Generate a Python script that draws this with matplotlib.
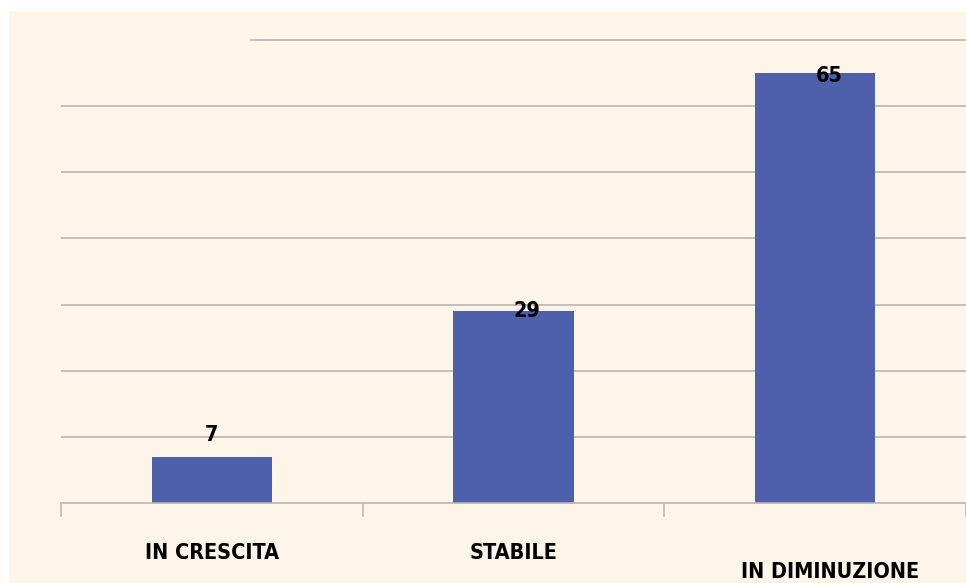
import matplotlib
matplotlib.use("Agg")
import matplotlib.pyplot as plt
from matplotlib.patches import Rectangle

categories = ["IN CRESCITA", "STABILE", "IN DIMINUZIONE"]
values = [7, 29, 65]
value_labels = ["7", "29", "65"]

W, H = 966, 583
fig = plt.figure(figsize=(W / 100, H / 100), dpi=100)
fig.patch.set_facecolor("white")
cream = "#FEF5E9"
fig.add_artist(Rectangle((9 / W, 0), 1 - 9 / W, 1 - 11 / H, transform=fig.transFigure,
                         facecolor=cream, edgecolor="none", zorder=0))

ax = fig.add_axes([61 / W, (H - 503) / H, 1 - 61 / W, (503 - 40) / H])
ax.set_facecolor("none")
ax.set_xlim(0, 3)
ax.set_ylim(0, 70)

grid_c = "#B9B5AF"
for yv in range(10, 70, 10):
    ax.axhline(yv, color=grid_c, lw=1.2, zorder=1)
ax.axhline(70, xmin=(251 - 61) / (W - 61), xmax=1, color=grid_c, lw=1.2, zorder=1, clip_on=False)

xs = [i + 0.5 for i in range(len(categories))]
ax.bar(xs, values, width=0.4, color="#4E60AB", zorder=2)

font = dict(family="DejaVu Sans", stretch="condensed", weight="bold", color="black")
label_pos = [(0.5, 10.3), (1.546, 29.1), (2.546, 64.5)]
for (lx, ly), t in zip(label_pos, value_labels):
    ax.text(lx, ly, t, ha="center", va="center", fontsize=15.5, zorder=3, **font)

for sp in ["left", "right", "top"]:
    ax.spines[sp].set_visible(False)
ax.spines["bottom"].set_color(grid_c)
ax.spines["bottom"].set_linewidth(1.2)
ax.set_yticks([])
ax.set_xticks([0, 1, 2, 3])
ax.set_xticklabels([])
ax.tick_params(axis="x", length=10, width=1.1, color=grid_c, direction="out")

cat_pos = [(0.5, -7.5), (1.5, -7.5), (2.55, -10.4)]
for (cx, cy), c in zip(cat_pos, categories):
    ax.text(cx, cy, c, ha="center", va="center", fontsize=15.5, clip_on=False, **font)

fig.savefig("out.png", dpi=100, facecolor=fig.get_facecolor())
